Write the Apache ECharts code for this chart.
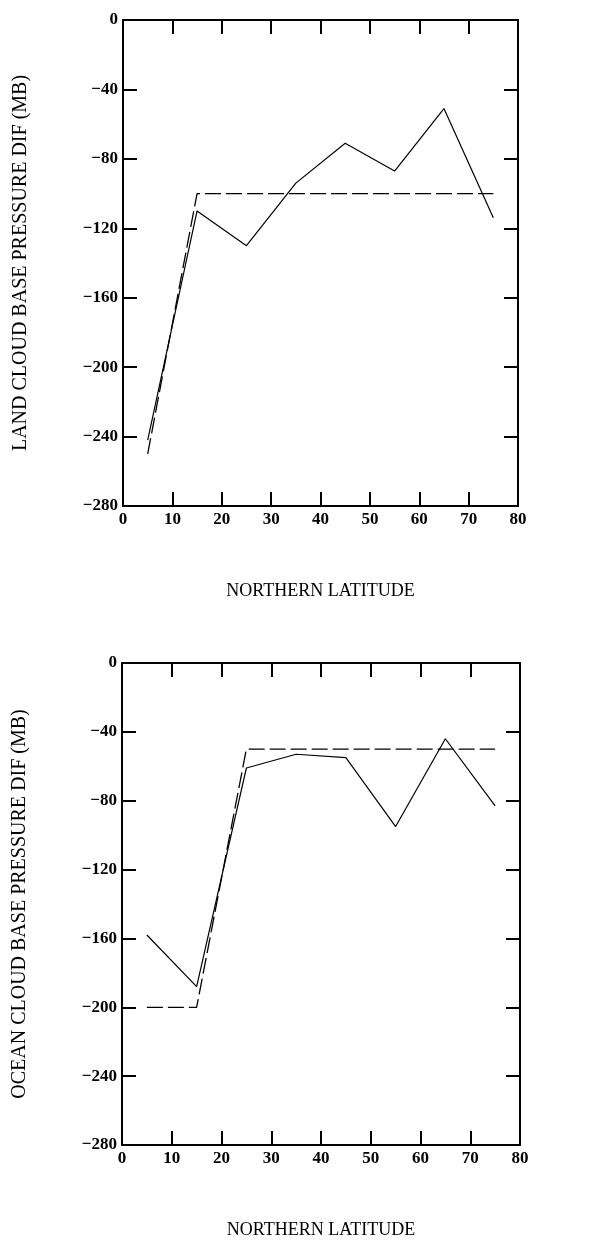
<!DOCTYPE html>
<html>
<head>
<meta charset="utf-8">
<script src="https://cdn.jsdelivr.net/npm/echarts@6/dist/echarts.min.js"></script>
<style>
html,body{margin:0;padding:0;background:#fff;}
#c{width:594px;height:1240px;}
</style>
</head>
<body>
<div id="c"></div>
<script>
// ---- data ----
const latitudes = [5, 15, 25, 35, 45, 55, 65, 75];
const landObserved = [-242, -110, -130, -94, -71, -87, -51, -114];
const landFitLat = [5, 15, 75];
const landFit = [-250, -100, -100];
const oceanObserved = [-158, -188, -61, -53, -55, -95, -44, -83];
const oceanFitLat = [5, 15, 25, 75];
const oceanFit = [-200, -200, -50, -50];
const xTicks = [0, 10, 20, 30, 40, 50, 60, 70, 80];
const yTicks = [0, -40, -80, -120, -160, -200, -240, -280];
const xTitle = 'NORTHERN LATITUDE';
const landTitle = 'LAND CLOUD BASE PRESSURE DIF (MB)';
const oceanTitle = 'OCEAN CLOUD BASE PRESSURE DIF (MB)';

const pair = (xs, ys) => xs.map((x, i) => [x, ys[i]]);
const FONT = '"Liberation Serif", "DejaVu Serif", serif';
const axisLine = {show: true, onZero: false, lineStyle: {color: '#000', width: 2}};
const tick = {show: true, inside: true, length: 14, lineStyle: {color: '#000', width: 2}};

function xAxes(gi) {
  return [
    {gridIndex: gi, type: 'value', min: xTicks[0], max: xTicks[xTicks.length-1], interval: 10,
     position: 'bottom', axisLine, axisTick: tick, splitLine: {show: false},
     axisLabel: {color: '#000', fontFamily: FONT, fontSize: 17, fontWeight: 'bold', margin: 5},
     name: xTitle, nameLocation: 'middle', nameGap: 76,
     nameTextStyle: {color: '#000', fontFamily: FONT, fontSize: 18}},
    {gridIndex: gi, type: 'value', min: xTicks[0], max: xTicks[xTicks.length-1], interval: 10,
     position: 'top', axisLine, axisTick: tick, splitLine: {show: false}, axisLabel: {show: false}}
  ];
}
function yAxes(gi, title) {
  return [
    {gridIndex: gi, type: 'value', min: yTicks[yTicks.length-1], max: yTicks[0], interval: 40,
     position: 'left', axisLine, axisTick: tick, splitLine: {show: false},
     axisLabel: {color: '#000', fontFamily: FONT, fontSize: 17, fontWeight: 'bold', margin: 5,
       formatter: v => String(v).replace('-', '\u2212')},
     name: title, nameLocation: 'middle', nameGap: 92, nameRotate: 90,
     nameTextStyle: {color: '#000', fontFamily: FONT, fontSize: 20}},
    {gridIndex: gi, type: 'value', min: yTicks[yTicks.length-1], max: yTicks[0], interval: 40,
     position: 'right', axisLine, axisTick: tick, splitLine: {show: false}, axisLabel: {show: false}}
  ];
}
const solid = {color: '#000', width: 1.2, type: 'solid'};
const dashed = {color: '#000', width: 1.3, type: [16, 5]};

const chart = echarts.init(document.getElementById('c'), null, {renderer: 'canvas'});
chart.setOption({
  animation: false,
  backgroundColor: '#fff',
  grid: [
    {left: 123, top: 20, width: 395, height: 486},
    {left: 122, top: 663, width: 398, height: 485}
  ],
  xAxis: [...xAxes(0), ...xAxes(1)],
  yAxis: [...yAxes(0, landTitle), ...yAxes(1, oceanTitle)],
  series: [
    {type: 'line', xAxisIndex: 0, yAxisIndex: 0, data: pair(latitudes, landObserved), showSymbol: false, lineStyle: solid},
    {type: 'line', xAxisIndex: 0, yAxisIndex: 0, data: pair(landFitLat, landFit), showSymbol: false, lineStyle: dashed},
    {type: 'line', xAxisIndex: 2, yAxisIndex: 2, data: pair(latitudes, oceanObserved), showSymbol: false, lineStyle: solid},
    {type: 'line', xAxisIndex: 2, yAxisIndex: 2, data: pair(oceanFitLat, oceanFit), showSymbol: false, lineStyle: dashed}
  ]
});
</script>
</body>
</html>
